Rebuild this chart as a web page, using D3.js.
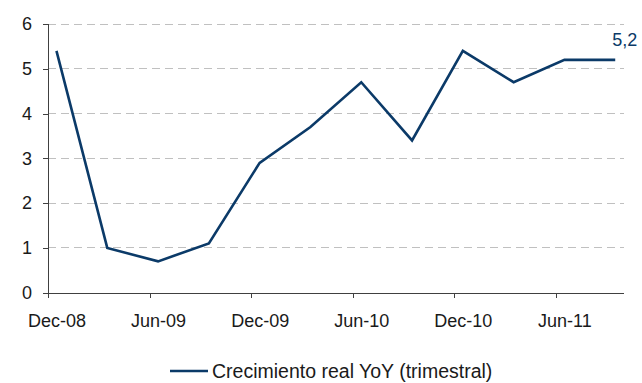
<!DOCTYPE html>
<html>
<head>
<meta charset="utf-8">
<script src="https://cdn.jsdelivr.net/npm/d3@7"></script>
<style>
  html, body { margin: 0; padding: 0; background: #ffffff; }
  svg { display: block; font-family: "Liberation Sans", Arial, sans-serif; }
</style>
</head>
<body>
<svg id="chart" width="642" height="383"></svg>
<script>
// Quarterly real GDP growth, year over year (%)
const quarters = ["Dec-08", "Mar-09", "Jun-09", "Sep-09", "Dec-09", "Mar-10",
                  "Jun-10", "Sep-10", "Dec-10", "Mar-11", "Jun-11", "Sep-11"];
const growth = [5.4, 1.0, 0.7, 1.1, 2.9, 3.7, 4.7, 3.4, 5.4, 4.7, 5.2, 5.2];
// Months elapsed since Dec-08 for each quarter
const monthOffset = [0, 3, 6, 9, 12, 15, 18, 21, 24, 27, 30, 33];
const axisLabels = ["Dec-08", "Jun-09", "Dec-09", "Jun-10", "Dec-10", "Jun-11"];
const axisLabelMonths = [0, 6, 12, 18, 24, 30];
const yTicks = [0, 1, 2, 3, 4, 5, 6];
const seriesName = "Crecimiento real YoY (trimestral)";
const lastLabel = "5,2";

const lineColor = "#0b3a68";
const svg = d3.select("#chart");
const plotLeft = 48, plotRight = 623.7, plotTop = 24, plotBottom = 292.7;
const totalMonths = 34;

// Month-based date axis: each month is one slot, points sit in mid-month
const x = d3.scaleLinear().domain([0, totalMonths]).range([plotLeft, plotRight]);
const y = d3.scaleLinear().domain([0, 6]).range([plotBottom, plotTop]);

// Dashed horizontal gridlines
svg.append("g")
  .selectAll("line")
  .data(yTicks.filter(t => t > 0))
  .join("line")
  .attr("x1", plotLeft).attr("x2", plotRight)
  .attr("y1", d => y(d)).attr("y2", d => y(d))
  .attr("stroke", "#c0c0c0")
  .attr("stroke-width", 1)
  .attr("stroke-dasharray", "8,5")
  .attr("shape-rendering", "crispEdges");

// Y axis
const yAxis = svg.append("g")
  .attr("transform", `translate(${plotLeft},0)`)
  .call(d3.axisLeft(y).tickValues(yTicks).tickSize(5).tickPadding(11).tickFormat(d3.format("d")));
yAxis.select(".domain").attr("stroke", "#404040").attr("shape-rendering", "crispEdges");
yAxis.selectAll(".tick line").attr("stroke", "#404040").attr("shape-rendering", "crispEdges");
yAxis.selectAll("text").attr("font-size", 18).attr("fill", "#1a1a1a")
  .attr("font-family", "Liberation Sans, Arial, sans-serif");

// X axis: ticks at month boundaries, labels centred on the month
const labelShift = x(0.5) - x(0);
const xAxis = svg.append("g")
  .attr("transform", `translate(0,${plotBottom})`)
  .call(d3.axisBottom(x).tickValues(axisLabelMonths).tickSize(5).tickSizeOuter(0)
    .tickFormat((d, i) => axisLabels[i]));
xAxis.select(".domain").attr("stroke", "#404040").attr("shape-rendering", "crispEdges");
xAxis.selectAll(".tick line").attr("stroke", "#404040").attr("shape-rendering", "crispEdges");
xAxis.selectAll("text")
  .attr("x", labelShift)
  .attr("y", 0)
  .attr("dy", 0)
  .attr("transform", "translate(0,34)")
  .attr("font-size", 18).attr("fill", "#1a1a1a")
  .attr("font-family", "Liberation Sans, Arial, sans-serif");

// Growth line
const pts = growth.map((v, i) => ({ m: monthOffset[i] + 0.5, v, q: quarters[i] }));
svg.append("path")
  .datum(pts)
  .attr("fill", "none")
  .attr("stroke", lineColor)
  .attr("stroke-width", 2.6)
  .attr("stroke-linejoin", "miter")
  .attr("d", d3.line().x(d => x(d.m)).y(d => y(d.v)));

// Value label on the latest quarter
const last = pts[pts.length - 1];
svg.append("text")
  .attr("x", x(last.m) - 3)
  .attr("y", y(last.v) - 14)
  .attr("font-size", 18)
  .attr("fill", lineColor)
  .text(lastLabel);

// Legend
const legendY = 371;
svg.append("line")
  .attr("x1", 170).attr("x2", 208)
  .attr("y1", legendY).attr("y2", legendY)
  .attr("stroke", lineColor).attr("stroke-width", 2.6);
svg.append("text")
  .attr("x", 212)
  .attr("y", legendY)
  .attr("dy", "0.35em")
  .attr("font-size", 19.5)
  .attr("fill", "#1a1a1a")
  .text(seriesName);
</script>
</body>
</html>
